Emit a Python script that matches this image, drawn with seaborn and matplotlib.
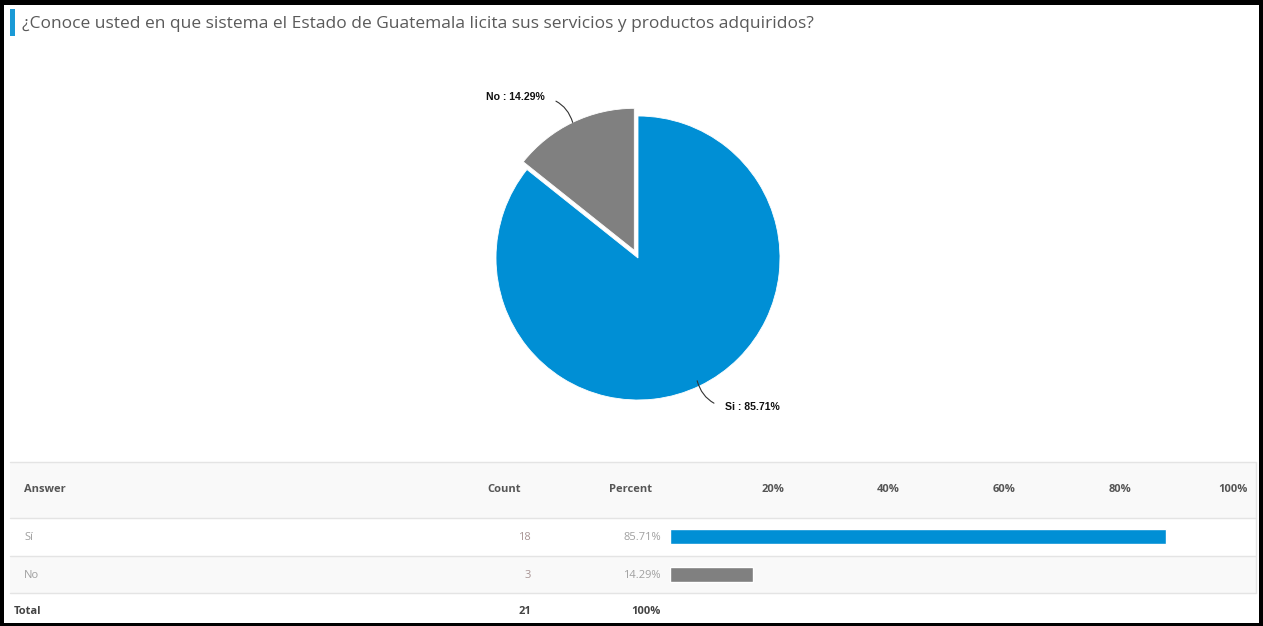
import numpy as np
import matplotlib
matplotlib.use("Agg")
import matplotlib.pyplot as plt
import matplotlib.patches as mpatches
from matplotlib.transforms import blended_transform_factory
import seaborn as sns

# ---- data ----
title = "¿Conoce usted en que sistema el Estado de Guatemala licita sus servicios y productos adquiridos?"
answers = ["Sí", "No"]
pie_labels = ["Si", "No"]
counts = [18, 3]
percents = [85.71, 14.29]
total_count = 21
total_pct = "100%"
tick_values = [20, 40, 60, 80, 100]
tick_labels = ["20%", "40%", "60%", "80%", "100%"]
colors = ["#008fd5", "#808080"]

sns.set_theme(style="white")
plt.rcParams["font.family"] = ["Open Sans", "DejaVu Sans"]

W, H = 1263, 626
fig = plt.figure(figsize=(W / 100, H / 100), dpi=100)
fig.patch.set_facecolor("white")


def px_rect(x0, y0, x1, y1):
    return [x0 / W, (H - y1) / H, (x1 - x0) / W, (y1 - y0) / H]


# background canvas in pixel units
bg = fig.add_axes([0, 0, 1, 1])
bg.set_xlim(0, W)
bg.set_ylim(H, 0)
bg.axis("off")

# frame
for (x0, y0, x1, y1) in [(0, 0, W, 5), (0, 0, 4, H), (W - 4, 0, W, H), (0, H - 3, W, H)]:
    bg.add_patch(mpatches.Rectangle((x0, y0), x1 - x0, y1 - y0, color="black", lw=0, zorder=5))

# title with accent bar
bg.add_patch(mpatches.Rectangle((10, 9), 5, 27, color="#1a9ad6", lw=0))
bg.text(22, 24, title, fontsize=12.5, color="#5a5a5a", va="center", ha="left")

# table backgrounds and rules
tx0, tx1 = 10, 1256
bg.add_patch(mpatches.Rectangle((tx0, 462), tx1 - tx0, 56, color="#f9f9f9", lw=0))
bg.add_patch(mpatches.Rectangle((tx0, 556), tx1 - tx0, 37, color="#f9f9f9", lw=0))
for yy in [462, 518, 556, 593]:
    bg.plot([tx0, tx1], [yy, yy], color="#e4e4e4", lw=1)
bg.plot([tx1, tx1], [462, 593], color="#e4e4e4", lw=1)

hdr_y, row_y, tot_y = 490, [537, 575], 611
hdr_kw = dict(fontsize=8, fontweight="bold", color="#555555", va="center")
bg.text(24, hdr_y, "Answer", ha="left", **hdr_kw)
bg.text(504, hdr_y, "Count", ha="center", **hdr_kw)
bg.text(630, hdr_y, "Percent", ha="center", **hdr_kw)

for i, (a, c, p) in enumerate(zip(answers, counts, percents)):
    bg.text(24, row_y[i], a, ha="left", va="center", fontsize=8, color="#a0a0a0")
    bg.text(531, row_y[i], f"{c}", ha="right", va="center", fontsize=8, color="#a89494")
    bg.text(661, row_y[i], f"{p:.2f}%", ha="right", va="center", fontsize=8, color="#a0a0a0")

tot_kw = dict(fontsize=8, fontweight="bold", color="#444444", va="center")
bg.text(14, tot_y, "Total", ha="left", **tot_kw)
bg.text(531, tot_y, f"{total_count}", ha="right", **tot_kw)
bg.text(661, tot_y, total_pct, ha="right", **tot_kw)

# ---- percentage bars ----
axb = fig.add_axes(px_rect(670, 518, 1249, 593))
axb.patch.set_alpha(0)
sns.barplot(x=percents, y=answers, hue=answers, palette=colors, orient="h",
            width=0.4, saturation=1, legend=False, ax=axb)
axb.set_xlim(0, 100)
axb.set_ylim(1.5, -0.5)
axb.axis("off")
tr = blended_transform_factory(axb.transData, bg.transData)
for v, lab in zip(tick_values, tick_labels):
    axb.text(v - 0.3, hdr_y, lab, transform=tr, ha="right", va="center",
             fontsize=8, fontweight="bold", color="#555555")

# ---- pie ----
cx, cy, r_px, half = 638, 258, 142, 175
axp = fig.add_axes(px_rect(cx - half, cy - half, cx + half, cy + half))
axp.patch.set_alpha(0)
wedges, _ = axp.pie(percents, colors=colors, startangle=90, counterclock=False,
                    explode=[0, 0.06], radius=1,
                    wedgeprops=dict(edgecolor="white", linewidth=0.6))
lim = half / r_px
axp.set_xlim(-lim, lim)
axp.set_ylim(-lim, lim)
axp.set_aspect("equal")
axp.axis("off")

# (text offset in points, alignment, connector anchor on text, curvature, edge radius)
label_offsets = {0: ((20, -19), "left", (0, 0.5), -0.3, 0.96),
                 1: ((-20, 18), "right", (1, 0.5), -0.3, 1.0)}
for i, w in enumerate(wedges):
    mid = np.deg2rad((w.theta1 + w.theta2) / 2)
    ox, oy = w.center
    off, ha, rel, rad, rr = label_offsets[i]
    edge = (ox + rr * np.cos(mid), oy + rr * np.sin(mid))
    axp.annotate(f"{pie_labels[i]} : {percents[i]:.2f}%", xy=edge, xytext=off,
                 textcoords="offset points", ha=ha, va="center",
                 fontsize=7.6, fontweight="bold", color="#111111",
                 family=["Liberation Sans", "DejaVu Sans"],
                 arrowprops=dict(arrowstyle="-", color="#333333", lw=0.8,
                                 relpos=rel, shrinkA=6, shrinkB=0,
                                 connectionstyle=f"arc3,rad={rad}"))

fig.savefig("out.png", dpi=100, facecolor="white")
